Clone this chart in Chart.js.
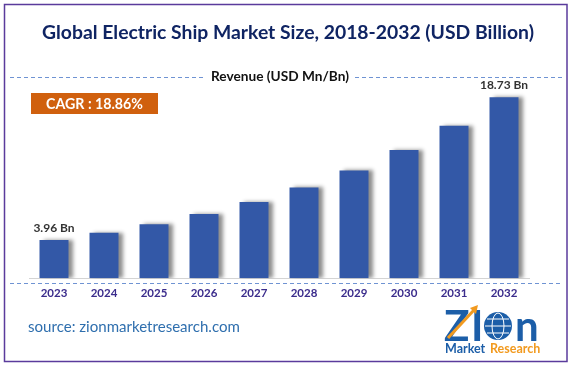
<!DOCTYPE html>
<html>
<head>
<meta charset="utf-8">
<script src="https://cdn.jsdelivr.net/npm/chart.js@4.4.1/dist/chart.umd.min.js"></script>
<style>
  html, body { margin: 0; padding: 0; background: #ffffff; }
  #wrap { width: 573px; height: 367px; position: relative; }
</style>
</head>
<body>
<div id="wrap"><canvas id="chart-ship"></canvas></div>
<script>
// datos
const anios = ['2023', '2024', '2025', '2026', '2027', '2028', '2029', '2030', '2031', '2032'];
const ingresos = [3.96, 4.71, 5.59, 6.65, 7.90, 9.39, 11.16, 13.27, 15.77, 18.73];
const etiquetasValor = ['3.96 Bn', '', '', '', '', '', '', '', '', '18.73 Bn'];
const titulo = 'Global Electric Ship Market Size, 2018-2032 (USD Billion)';
const subtitulo = 'Revenue (USD Mn/Bn)';
const cagr = 'CAGR : 18.86%';
const fuente = 'source: zionmarketresearch.com';

const FAMILIA = 'Lato, "Open Sans", sans-serif';

// ajusta el tamaño de fuente para que el texto ocupe el ancho dado
function fuenteAjustada(ctx, texto, peso, ancho) {
    ctx.font = peso + ' 20px ' + FAMILIA;
    const w = ctx.measureText(texto).width;
    return peso + ' ' + (20 * ancho / w).toFixed(2) + 'px ' + FAMILIA;
}

function lineaPunteada(ctx, x1, x2, y) {
    ctx.save();
    ctx.strokeStyle = '#6f93d3';
    ctx.lineWidth = 1;
    ctx.setLineDash([4, 3]);
    ctx.beginPath();
    ctx.moveTo(x1, y);
    ctx.lineTo(x2, y);
    ctx.stroke();
    ctx.restore();
}

// sombra a la derecha de cada barra
const sombraBarras = {
    id: 'sombraBarras',
    beforeDatasetsDraw(chart) {
        const ctx = chart.ctx;
        ctx.save();
        ctx.shadowColor = 'rgba(0,0,0,0.45)';
        ctx.shadowBlur = 4;
        ctx.shadowOffsetX = 4;
        ctx.shadowOffsetY = 0;
    },
    afterDatasetsDraw(chart) {
        chart.ctx.restore();
    }
};

// textos y adornos alrededor del grafico
const decoracion = {
    id: 'decoracion',
    beforeDraw(chart) {
        const ctx = chart.ctx;
        ctx.save();
        ctx.fillStyle = '#ffffff';
        ctx.fillRect(0, 0, chart.width, chart.height);
        ctx.restore();
    },
    afterDraw(chart) {
        const ctx = chart.ctx;
        ctx.save();

        // titulo
        ctx.font = fuenteAjustada(ctx, titulo, 'bold', 492);
        ctx.fillStyle = '#0f2463';
        ctx.textAlign = 'center';
        ctx.textBaseline = 'middle';
        ctx.fillText(titulo, 288, 33);

        // lineas punteadas y subtitulo
        lineaPunteada(ctx, 10, 205, 77.5);
        lineaPunteada(ctx, 355, 563, 77.5);
        lineaPunteada(ctx, 10, 563, 283.5);
        ctx.font = fuenteAjustada(ctx, subtitulo, 'bold', 138);
        ctx.fillStyle = '#111111';
        ctx.fillText(subtitulo, 280, 77);

        // caja CAGR
        ctx.fillStyle = '#d0600e';
        ctx.fillRect(31, 93, 127, 21);
        ctx.font = fuenteAjustada(ctx, cagr, 'bold', 97);
        ctx.fillStyle = '#ffffff';
        ctx.fillText(cagr, 94.5, 104);

        // etiquetas de valor sobre las barras
        const meta = chart.getDatasetMeta(0);
        ctx.font = 'bold 12px ' + FAMILIA;
        ctx.fillStyle = '#333333';
        meta.data.forEach((barra, i) => {
            if (etiquetasValor[i]) {
                ctx.fillText(etiquetasValor[i], barra.x, barra.y - 12);
            }
        });

        // fuente
        ctx.textAlign = 'left';
        ctx.font = fuenteAjustada(ctx, fuente, 'normal', 212);
        ctx.fillStyle = '#2f6fae';
        ctx.fillText(fuente, 28, 327);

        // logo Zion
        ctx.fillStyle = '#1c5ea8';
        ctx.font = 'bold 42px ' + FAMILIA;
        ctx.textBaseline = 'alphabetic';
        ctx.fillText('Z', 444, 341);
        ctx.fillText('I', 471, 341);
        ctx.fillText('n', 515, 341);
        ctx.beginPath();
        ctx.arc(498, 326, 14, 0, Math.PI * 2);
        ctx.fill();
        ctx.strokeStyle = '#ffffff';
        ctx.lineWidth = 1;
        ctx.beginPath();
        ctx.ellipse(498, 326, 6, 13, 0, 0, Math.PI * 2);
        ctx.moveTo(485, 326); ctx.lineTo(511, 326);
        ctx.moveTo(487, 319); ctx.lineTo(509, 319);
        ctx.moveTo(487, 333); ctx.lineTo(509, 333);
        ctx.stroke();
        ctx.strokeStyle = '#f29a1f';
        ctx.lineWidth = 3;
        ctx.beginPath();
        ctx.moveTo(448, 338);
        ctx.lineTo(474, 310);
        ctx.stroke();
        ctx.fillStyle = '#f29a1f';
        ctx.beginPath();
        ctx.moveTo(478, 305); ctx.lineTo(470, 308); ctx.lineTo(476, 314);
        ctx.fill();
        ctx.font = 'bold 12.5px ' + FAMILIA;
        ctx.fillStyle = '#1c5ea8';
        ctx.fillText('Market', 445, 353);
        ctx.fillStyle = '#f29a1f';
        ctx.fillText('Research', 490, 353);

        // borde
        ctx.strokeStyle = '#5a3b9c';
        ctx.lineWidth = 1.5;
        ctx.strokeRect(4.5, 4.5, 562.5, 357);
        ctx.restore();
    }
};

function crearGrafico() {
    const ctx = document.getElementById('chart-ship').getContext('2d');
    new Chart(ctx, {
        type: 'bar',
        data: {
            labels: anios,
            datasets: [{
                label: 'Revenue',
                data: ingresos,
                backgroundColor: '#3358a7',
                borderWidth: 0,
                categoryPercentage: 1,
                barPercentage: 0.58
            }]
        },
        options: {
            responsive: true,
            maintainAspectRatio: false,
            animation: false,
            devicePixelRatio: 1,
            layout: { padding: { left: 29, right: 44, top: 85, bottom: 59 } },
            plugins: {
                legend: { display: false },
                tooltip: { enabled: false },
                title: { display: false }
            },
            scales: {
                x: {
                    grid: { display: false, drawTicks: false },
                    border: { display: true, color: '#d4d4d4', width: 1 },
                    ticks: {
                        color: '#3b2c8c',
                        font: { family: FAMILIA, size: 11.5, weight: 'bold' },
                        padding: 8
                    }
                },
                y: {
                    display: false,
                    min: 0,
                    max: 20
                }
            }
        },
        plugins: [sombraBarras, decoracion]
    });
}

crearGrafico();
</script>
</body>
</html>
